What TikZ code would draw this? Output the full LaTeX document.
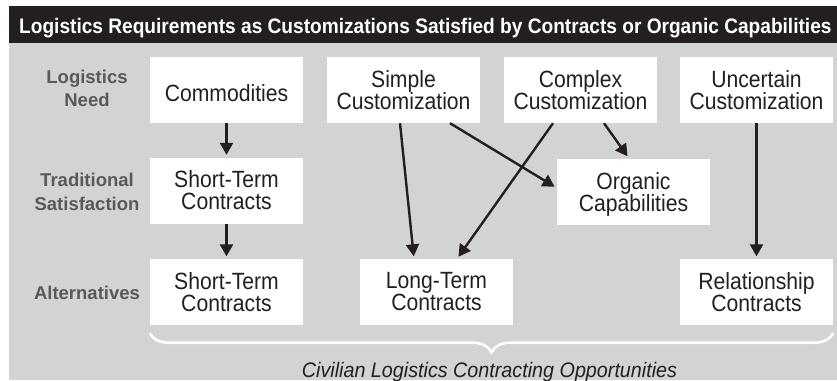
\documentclass[tikz,border=0pt]{standalone}
\usepackage{fontspec}
\setmainfont{Liberation Sans}
\newfontfamily\boxfont[FakeStretch=0.9]{Liberation Sans}
\newfontfamily\headfont[FakeStretch=0.91]{Liberation Sans}
\newfontfamily\notefont[FakeStretch=0.94]{Liberation Sans}
\usetikzlibrary{arrows.meta,decorations.pathreplacing}
\definecolor{panel}{HTML}{D1D3D4}
\definecolor{ink}{HTML}{231F20}
\definecolor{rowgray}{HTML}{58595B}
% keep a line's height but drop its depth, so box text centres on the letters
\newcommand\flatline[1]{\raisebox{0pt}[\height][0pt]{#1}}
\newcommand\tallline[1]{\raisebox{0pt}[23pt][0pt]{#1}}

\begin{document}
\begin{tikzpicture}[x=1pt,y=-1pt,
  card/.style={fill=white, minimum width=153pt, minimum height=66pt,
    inner sep=0pt, align=center, text=ink,
    font=\boxfont\fontsize{23.5}{22}\selectfont},
  rowlabel/.style={align=center, text=rowgray, inner sep=0pt,
    font=\bfseries\fontsize{18.5}{23.5}\selectfont},
  flow/.style={draw=ink, line width=2.4pt,
    -{Triangle[length=12pt,width=13pt]}, shorten >=2.5pt}
]
\useasboundingbox (0,0) rectangle (837,380);
\fill[white] (0,0) rectangle (837,380);
\fill[panel] (9,43) rectangle (837,380);
\fill[ink] (9,6) rectangle (837,43);

\node[anchor=base west, inner sep=0pt, text=white,
  font=\headfont\bfseries\fontsize{21}{24}\selectfont] (title) at (19,33.3)
  {Logistics Requirements as Customizations Satisfied by Contracts or Organic Capabilities};

% row headings
\node[rowlabel] (need) at (87,88.6) {Logistics\\Need};
\node[rowlabel] (trad) at (87,192) {Traditional\\Satisfaction};
\node[rowlabel, anchor=base] (alt) at (87,299.3) {Alternatives};

% logistics needs
\node[card] (comm)  at (226.5,90) {\tallline{Commodities}};
\node[card] (simple) at (403.5,90) {Simple\\Customization};
\node[card] (complex) at (580.5,90) {Complex\\Customization};
\node[card] (uncert) at (756.5,90) {Uncertain\\Customization};

% traditional satisfaction
\node[card] (stTrad) at (226.5,190.5) {Short-Term\\Contracts};
\node[card] (organic) at (633.5,191.5) {Organic\\\flatline{Capabilities}};

% alternatives
\node[card] (stAlt) at (226.5,292) {Short-Term\\Contracts};
\node[card] (longt) at (436.5,292) {Long-Term\\Contracts};
\node[card] (relat) at (756.5,292) {Relationship\\Contracts};

% connectors
\draw[flow] (comm.south) -- (stTrad.north);
\draw[flow] (stTrad.south) -- (stAlt.north);
\draw[flow] ([xshift=-3.5pt]simple.south) -- ([xshift=-22.5pt]longt.north);
\draw[flow] ([xshift=46.5pt]simple.south) -- ([yshift=3.5pt]organic.west);
\draw[flow] ([xshift=-27.5pt]complex.south) -- ([xshift=20.5pt]longt.north);
\draw[flow] ([xshift=23.5pt]complex.south) -- ([xshift=-4.5pt]organic.north);
\draw[flow] (uncert.south) -- (relat.north);

% brace over the contracting alternatives
\draw[white, line width=2.6pt, decorate,
  decoration={brace, mirror, amplitude=19pt}]
  ([yshift=-8pt]stAlt.south west) -- ([yshift=-8pt]relat.south east);
\node[anchor=base, inner sep=0pt, text=ink,
  font=\notefont\itshape\fontsize{21}{24}\selectfont] (opps) at (489.5,377)
  {Civilian Logistics Contracting Opportunities};
\end{tikzpicture}
\end{document}
